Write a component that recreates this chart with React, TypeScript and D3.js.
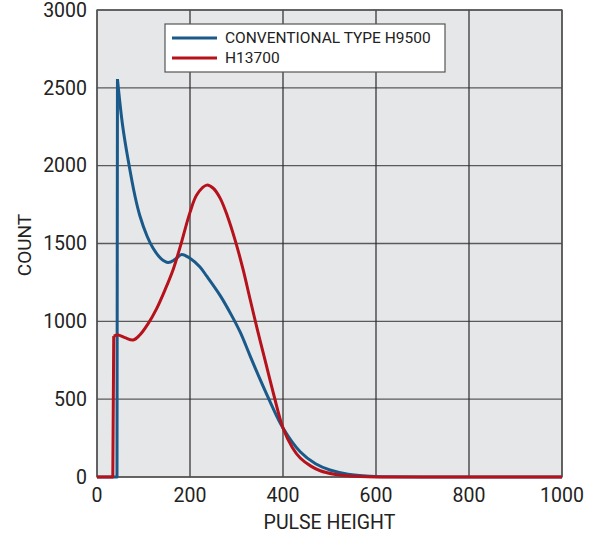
import React, { useEffect, useRef } from "react";
import * as d3 from "d3";

const xTicks = [0, 200, 400, 600, 800, 1000];
const yTicks = [0, 500, 1000, 1500, 2000, 2500, 3000];

const seriesNames = ["CONVENTIONAL TYPE H9500", "H13700"];
const seriesColors = ["#1a5a8a", "#b5121b"];

// conventional type H9500 (first three points: baseline and jump)
const blueX = [0, 43, 44, 55, 67, 82, 92, 108, 121, 137, 153, 168, 182, 200, 221, 236, 265, 290, 308, 329, 351, 375, 400, 437, 470, 501, 540, 587, 620, 700, 1000];
const blueY = [0, 0, 2556, 2260, 2036, 1800, 1680, 1545, 1468, 1405, 1378, 1398, 1430, 1405, 1350, 1290, 1165, 1035, 930, 780, 625, 465, 315, 162, 85, 45, 18, 5, 2, 0, 0];

// H13700
const redX = [0, 34, 36, 45, 60, 78, 92, 110, 128, 146, 164, 179, 200, 215, 236, 250, 265, 280, 297, 314, 329, 345, 361, 380, 400, 420, 437, 460, 480, 510, 544, 600, 700, 1000];
const redY = [0, 0, 905, 912, 895, 880, 912, 985, 1080, 1200, 1335, 1480, 1700, 1815, 1875, 1855, 1790, 1680, 1522, 1335, 1145, 945, 755, 530, 315, 190, 122, 70, 40, 18, 6, 0, 0, 0];

export default function App() {
  const ref = useRef<SVGSVGElement>(null);

  useEffect(() => {
    const svg = d3.select(ref.current);
    svg.selectAll("*").remove();

    const margin = { top: 10, left: 97 };
    const w = 465, h = 467;

    const x = d3.scaleLinear().domain([0, 1000]).range([0, w]);
    const y = d3.scaleLinear().domain([0, 3000]).range([h, 0]);

    const g = svg.append("g").attr("transform", `translate(${margin.left},${margin.top})`);

    g.append("rect").attr("width", w).attr("height", h).attr("fill", "#e6e7e9");

    // grid
    g.selectAll(".hgrid")
      .data(yTicks)
      .join("line")
      .attr("x1", 0).attr("x2", w)
      .attr("y1", d => y(d)).attr("y2", d => y(d))
      .attr("stroke", "#5a5a5a").attr("stroke-width", 1.3);
    g.selectAll(".vgrid")
      .data(xTicks)
      .join("line")
      .attr("y1", 0).attr("y2", h)
      .attr("x1", d => x(d)).attr("x2", d => x(d))
      .attr("stroke", "#2a2a2a").attr("stroke-width", 1.2);
    g.append("rect").attr("width", w).attr("height", h)
      .attr("fill", "none").attr("stroke", "#555").attr("stroke-width", 1.3);

    // tick labels
    g.selectAll(".yl")
      .data(yTicks)
      .join("text")
      .attr("x", -10).attr("y", d => y(d))
      .attr("dy", "0.35em")
      .attr("text-anchor", "end")
      .attr("font-size", 19.5)
      .attr("fill", "#222")
      .text(d => d);
    g.selectAll(".xl")
      .data(xTicks)
      .join("text")
      .attr("x", d => x(d)).attr("y", h + 25)
      .attr("text-anchor", "middle")
      .attr("font-size", 19.5)
      .attr("fill", "#222")
      .text(d => d);

    g.append("text")
      .attr("x", w / 2).attr("y", h + 52)
      .attr("text-anchor", "middle")
      .attr("font-size", 19.5)
      .attr("fill", "#222")
      .text("PULSE HEIGHT");
    g.append("text")
      .attr("transform", "rotate(-90)")
      .attr("x", -235).attr("y", -66)
      .attr("text-anchor", "middle")
      .attr("font-size", 19)
      .attr("fill", "#222")
      .text("COUNT");

    const straight = d3.line<[number, number]>()
      .x(d => x(d[0]))
      .y(d => y(d[1]));
    const smooth = d3.line<[number, number]>()
      .x(d => x(d[0]))
      .y(d => y(d[1]))
      .curve(d3.curveCatmullRom.alpha(0.5));

    const series = [
      blueX.map((v, i) => [v, blueY[i]] as [number, number]),
      redX.map((v, i) => [v, redY[i]] as [number, number]),
    ];

    series.forEach((pts, i) => {
      g.append("path").attr("d", straight(pts.slice(0, 3))).attr("fill", "none")
        .attr("stroke", seriesColors[i]).attr("stroke-width", 3)
        .attr("stroke-linejoin", "round");
      g.append("path").attr("d", smooth(pts.slice(2))).attr("fill", "none")
        .attr("stroke", seriesColors[i]).attr("stroke-width", 3)
        .attr("stroke-linejoin", "round");
    });

    // legend
    const lg = svg.append("g").attr("transform", "translate(165,24)");
    lg.append("rect").attr("width", 280).attr("height", 48)
      .attr("fill", "#fff").attr("stroke", "#555").attr("stroke-width", 1.2);
    seriesNames.forEach((name, i) => {
      lg.append("line")
        .attr("x1", 7).attr("x2", 52)
        .attr("y1", 14 + i * 20).attr("y2", 14 + i * 20)
        .attr("stroke", seriesColors[i]).attr("stroke-width", 3);
      lg.append("text")
        .attr("x", 60).attr("y", 14 + i * 20)
        .attr("dy", "0.35em")
        .attr("font-size", 15.5)
        .attr("fill", "#222")
        .text(name);
    });
  }, []);

  return (
    <svg
      ref={ref}
      width={590}
      height={536}
      style={{ position: "absolute", left: 0, top: 0, fontFamily: "Roboto, sans-serif", background: "#fff" }}
    />
  );
}
